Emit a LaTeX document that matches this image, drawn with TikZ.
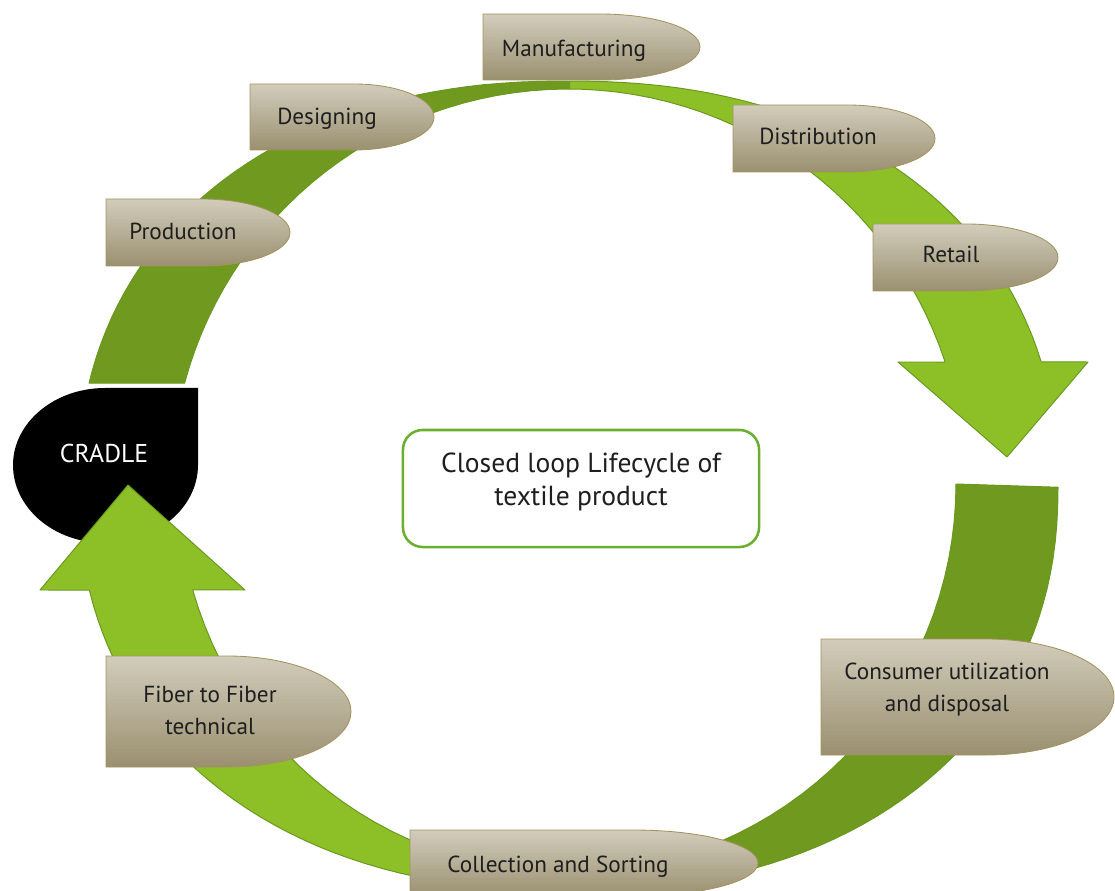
\documentclass[tikz,border=0pt]{standalone}
\usepackage{fontspec}
\setmainfont{PT Sans}
\definecolor{leafdark}{HTML}{6F9A1F}
\definecolor{leaflight}{HTML}{8DC026}
\definecolor{leafline}{HTML}{6A9820}
\definecolor{tagtop}{HTML}{D2CCBB}
\definecolor{tagbot}{HTML}{9A9070}
\definecolor{tagline}{HTML}{A3935F}
\definecolor{tagink}{HTML}{1E1E1E}
\definecolor{titleline}{HTML}{6CAE30}
\newcommand{\tagshape}[5]{% left, top, right, bottom, length of round end
\pgfmathsetmacro{\tagmid}{(#2+#4)/2}
\pgfmathsetmacro{\tagk}{0.5523*#5}
\pgfmathsetmacro{\tagh}{0.5523*(#4-#2)/2}
\draw[tagbox] (#1,#2) -- (#3-#5,#2)
  .. controls (#3-#5+\tagk,#2) and (#3,\tagmid-\tagh) .. (#3,\tagmid)
  .. controls (#3,\tagmid+\tagh) and (#3-#5+\tagk,#4) .. (#3-#5,#4)
  -- (#1,#4) -- cycle;
}
% upper and lower block arrows of the loop
\def\toparrow{plot[domain=167.2:15.8,samples=80] ({568+490*supc(\x)},{486-405*sups(\x)})
  -- (1088,362) -- (1007,457) -- (898,362)
  -- plot[domain=18.2:165,samples=60] ({568+397*cos(\x)},{486-397*sin(\x)}) -- cycle}
\def\botarrow{plot[domain=-0.1:-167.05,samples=80] ({568+490*supc(\x)},{486-405*sups(\x)})
  -- (40,590) -- (128,485) -- (245,590)
  -- plot[domain=-164.2:0,samples=60] ({567+389*cos(\x)},{484-389*sin(\x)}) -- cycle}

\begin{document}
\begin{tikzpicture}[x=0.025cm,y=-0.025cm,
  declare function={supc(\t)=(cos(\t)<0 ? -1 : 1)*pow(max(abs(cos(\t)),0.0001),0.909);
                    sups(\t)=(sin(\t)<0 ? -1 : 1)*pow(max(abs(sin(\t)),0.0001),0.909);},
  tagbox/.style={draw=tagline,line width=0.6pt,top color=tagtop,bottom color=tagbot},
  tagtext/.style={font=\fontsize{16.5}{22.7}\selectfont,text=tagink,align=center,inner sep=0pt},
  leafedge/.style={draw=leafline,line width=0.7pt,line join=round},
  titlebox/.style={draw=titleline,line width=1.8pt,rounded corners=14pt,fill=white,
    minimum width=8.9cm,minimum height=2.925cm}]
\useasboundingbox (0,0) rectangle (1115,891);

%%%%%
\fill[black] (198,388) -- (105,388) .. controls (54,388) and (13,423) .. (13,465)
  .. controls (13,508) and (54,543) .. (105,543)
  .. controls (156,543) and (198,508) .. (198,465) -- cycle;
\node[tagtext,text=white,anchor=base,font=\fontsize{18.3}{22.7}\selectfont] (cradle) at (104,462) {CRADLE};

%%%%%
\fill[leaflight] \toparrow;
\begin{scope}
\clip (0,0) rectangle (570,891);
\fill[leafdark] \toparrow;
\end{scope}
\path[leafedge] \toparrow;

\fill[leaflight] \botarrow;
\begin{scope}
\clip (570,0) rectangle (1115,891);
\fill[leafdark] \botarrow;
\end{scope}
\path[leafedge] \botarrow;

%%%%%
\tagshape{483}{14}{700}{80}{100}
\node[tagtext,anchor=base] (manuf) at (574,57) {Manufacturing};
\tagshape{250}{84}{434}{150}{80}
\node[tagtext,anchor=base] (design) at (327,125) {Designing};
\tagshape{106}{199}{290}{266}{88}
\node[tagtext,anchor=base] (prod) at (183,240) {Production};
\tagshape{733}{105}{935}{172}{88}
\node[tagtext,anchor=base] (distr) at (818,145) {Distribution};
\tagshape{873}{224}{1058}{291}{92}
\node[tagtext,anchor=base] (retail) at (951,263) {Retail};
\tagshape{821}{639}{1114}{755}{128}
\node[tagtext] (consumer) at (947,690) {Consumer utilization\\and disposal};
\tagshape{410}{830}{758}{896}{125}
\node[tagtext,anchor=base] (collect) at (558,872) {Collection and Sorting};
\tagshape{106}{656}{351}{767}{124}
\node[tagtext] (fiber) at (210,710) {Fiber to Fiber\\technical};

%%%%%
\node[titlebox] (titlebox) at (581,488.5) {};
\node[tagtext,font=\fontsize{19.6}{23.4}\selectfont] (title) at (581,482)
  {Closed loop Lifecycle of\\textile product};

\end{tikzpicture}
\end{document}
